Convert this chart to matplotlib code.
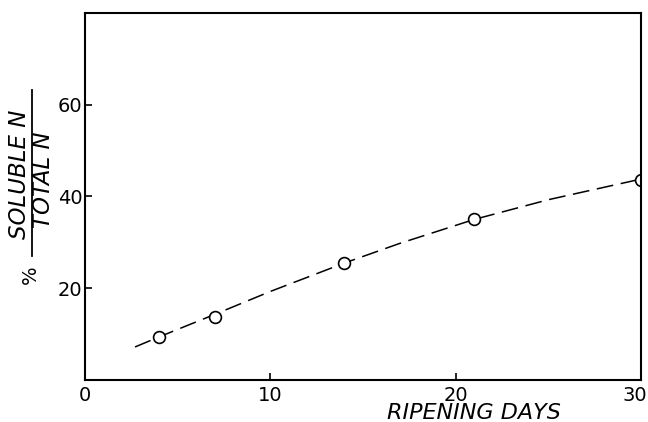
import matplotlib
matplotlib.use("Agg")
import matplotlib.pyplot as plt
from matplotlib.lines import Line2D
from matplotlib.transforms import ScaledTranslation

# measured soluble N as % of total N over ripening
days = [4, 7, 14, 21, 30]
soluble_pct = [9.3, 13.8, 25.6, 35.2, 43.5]

# hand-drawn trend curve through the points
curve_days = [2.7, 4, 7, 10, 14, 17, 21, 25, 30]
curve_pct = [7.2, 9.4, 14.3, 19.3, 25.5, 29.8, 35.0, 39.3, 43.8]

x_ticks = [0, 10, 20, 30]
y_ticks = [20, 40, 60]

W, H = 648, 422
fig = plt.figure(figsize=(W / 100, H / 100), dpi=100)
ax = fig.add_axes([85 / W, 1 - 380 / H, (641 - 85) / W, (380 - 13) / H])

ax.plot(curve_days, curve_pct, color="black", lw=1.1, linestyle=(0, (11, 5)))
ax.plot(days, soluble_pct, linestyle="none", marker="o", markersize=8.5,
        markerfacecolor="white", markeredgecolor="black", markeredgewidth=1.2)

ax.set_xlim(0, 30)
ax.set_ylim(0, 80)
ax.set_xticks(x_ticks)
ax.set_yticks(y_ticks)
ax.tick_params(direction="in", length=5, width=1.2, labelsize=14)
ax.tick_params(axis="x", pad=4)
ax.tick_params(axis="y", pad=2)
for s in ax.spines.values():
    s.set_linewidth(1.5)

# pull the "30" in so it stays on the page
labels = ax.get_xticklabels()
labels[-1].set_transform(labels[-1].get_transform() +
                         ScaledTranslation(-6 / 100, 0, fig.dpi_scale_trans))

fig.text(474 / W, 1 - 413 / H, "RIPENING DAYS", fontsize=16, style="italic",
         ha="center", va="center")

# stacked fraction label on the y side
fig.text(20 / W, 1 - 174 / H, "SOLUBLE N", rotation=90, style="italic",
         fontsize=16.5, ha="center", va="center")
fig.text(44 / W, 1 - 180 / H, "TOTAL N", rotation=90, style="italic",
         fontsize=16.5, ha="center", va="center")
fig.add_artist(Line2D([32 / W, 32 / W], [1 - 256 / H, 1 - 90 / H],
                      transform=fig.transFigure, color="black", lw=1.3))
fig.text(30 / W, 1 - 275 / H, "%", rotation=90, fontsize=14,
         ha="center", va="center")

fig.savefig("out.png", dpi=100)
